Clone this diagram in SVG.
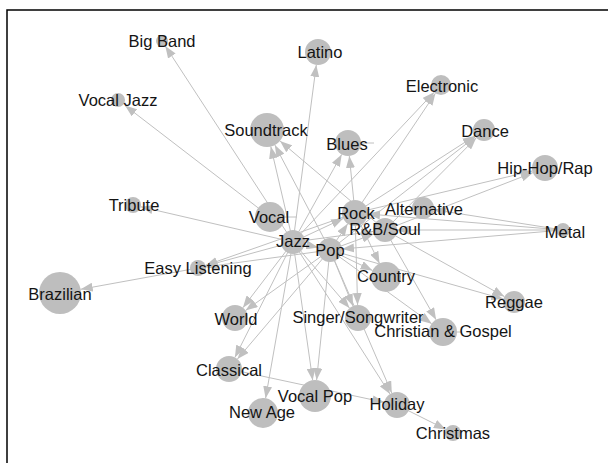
<svg xmlns="http://www.w3.org/2000/svg" width="608" height="463" viewBox="0 0 608 463">
<style>
.e{stroke:#c0c0c0;stroke-width:1;fill:none;marker-end:url(#ah)}
.s{stroke:#c0c0c0;stroke-width:1;fill:none}
.n circle{fill:#bebebe;stroke:none}
.n text{font-family:"Liberation Sans",Arial,sans-serif;font-size:16.5px;fill:#141414;text-anchor:middle}
</style>
<defs>
<marker id="ah" markerUnits="userSpaceOnUse" markerWidth="12" markerHeight="9" refX="12" refY="4.5" orient="auto">
<path d="M0,0 L12,4.5 L0,9 Z" fill="#c0c0c0"/>
</marker>
</defs>
<rect x="0" y="0" width="608" height="463" fill="#ffffff"/>
<path d="M7,463 L7,10 L608,10" stroke="#000" stroke-width="1.5" fill="none"/>
<g id="connectors">
<line class="e" x1="293" y1="242" x2="165.3" y2="46"/>
<line class="e" x1="270" y1="217" x2="125" y2="105.5"/>
<line class="e" x1="293" y1="242" x2="316.3" y2="64.9"/>
<line class="e" x1="293" y1="242" x2="270.8" y2="146.6"/>
<line class="e" x1="330" y1="250" x2="274.9" y2="145.1"/>
<line class="e" x1="385" y1="230" x2="280" y2="141"/>
<line class="e" x1="293" y1="242" x2="341.7" y2="154.4"/>
<line class="e" x1="355" y1="213" x2="349.3" y2="155.9"/>
<line class="e" x1="293" y1="242" x2="434.1" y2="92.3"/>
<line class="e" x1="355" y1="213" x2="435.4" y2="93.3"/>
<line class="e" x1="355" y1="213" x2="474.7" y2="136"/>
<line class="e" x1="385" y1="230" x2="476.3" y2="137.8"/>
<line class="e" x1="330" y1="250" x2="475.3" y2="136.8"/>
<line class="e" x1="355" y1="213" x2="532.4" y2="171"/>
<line class="e" x1="385" y1="230" x2="532.9" y2="172.7"/>
<line class="e" x1="563" y1="230" x2="368" y2="214"/>
<line class="e" x1="563" y1="230" x2="433.9" y2="209.7"/>
<line class="e" x1="563" y1="230" x2="397" y2="230"/>
<line class="e" x1="563" y1="230" x2="342" y2="249"/>
<line class="e" x1="293" y1="242" x2="140.8" y2="206.8"/>
<line class="e" x1="293" y1="242" x2="205.7" y2="265.9"/>
<line class="e" x1="355" y1="213" x2="205.5" y2="265.4"/>
<line class="e" x1="330" y1="250" x2="205.9" y2="266.9"/>
<line class="e" x1="198" y1="268" x2="80.7" y2="289.3"/>
<line class="e" x1="293" y1="242" x2="242.9" y2="307.7"/>
<line class="e" x1="330" y1="250" x2="245.6" y2="310.4"/>
<line class="e" x1="293" y1="242" x2="234.9" y2="357.4"/>
<line class="e" x1="330" y1="250" x2="237.4" y2="359.1"/>
<line class="e" x1="293" y1="242" x2="265.6" y2="398.2"/>
<line class="e" x1="293" y1="242" x2="312.7" y2="380.2"/>
<line class="e" x1="330" y1="250" x2="316.6" y2="380.1"/>
<line class="e" x1="229" y1="369" x2="384.3" y2="402.3"/>
<line class="e" x1="293" y1="242" x2="390" y2="394"/>
<line class="e" x1="330" y1="250" x2="391.8" y2="393.1"/>
<line class="e" x1="397" y1="405" x2="445.8" y2="429.4"/>
<line class="e" x1="293" y1="242" x2="349.5" y2="308.1"/>
<line class="e" x1="330" y1="250" x2="353" y2="306"/>
<line class="e" x1="355" y1="213" x2="357.6" y2="305"/>
<line class="e" x1="355" y1="213" x2="379.5" y2="263.5"/>
<line class="e" x1="330" y1="250" x2="372.5" y2="270.5"/>
<line class="e" x1="385" y1="230" x2="504.4" y2="296.6"/>
<line class="e" x1="330" y1="250" x2="503.4" y2="299"/>
<line class="e" x1="385" y1="230" x2="436.1" y2="319.8"/>
<line class="e" x1="330" y1="250" x2="431.7" y2="323.8"/>
<line class="e" x1="293" y1="242" x2="343.2" y2="218.5"/>
<line class="e" x1="293" y1="242" x2="373.1" y2="231.5"/>
<line class="e" x1="330" y1="250" x2="347.7" y2="223.8"/>
<line class="e" x1="330" y1="250" x2="373.7" y2="234.1"/>
<line class="e" x1="293" y1="242" x2="318.3" y2="247.4"/>
<line class="s" x1="361" y1="143" x2="374" y2="143"/>
<line class="s" x1="280" y1="217" x2="297" y2="217"/>
<line class="s" x1="450" y1="332" x2="462" y2="332"/>
</g>
<g id="n-bigband" class="n"><circle cx="162" cy="41" r="6"/><text x="162" y="47">Big Band</text></g>
<g id="n-latino" class="n"><circle cx="318" cy="52" r="13"/><text x="320" y="58">Latino</text></g>
<g id="n-vocaljazz" class="n"><circle cx="118" cy="100" r="7"/><text x="118" y="106">Vocal Jazz</text></g>
<g id="n-electronic" class="n"><circle cx="441" cy="85" r="10"/><text x="442" y="92">Electronic</text></g>
<g id="n-soundtrack" class="n"><circle cx="267" cy="130" r="17"/><text x="266" y="136">Soundtrack</text></g>
<g id="n-blues" class="n"><circle cx="348" cy="143" r="13"/><text x="347" y="150">Blues</text></g>
<g id="n-dance" class="n"><circle cx="484" cy="130" r="11"/><text x="485" y="137">Dance</text></g>
<g id="n-hiphop" class="n"><circle cx="545" cy="168" r="13"/><text x="545" y="174">Hip-Hop/Rap</text></g>
<g id="n-tribute" class="n"><circle cx="133" cy="205" r="8"/><text x="134" y="211">Tribute</text></g>
<g id="n-vocal" class="n"><circle cx="270" cy="217" r="15"/><text x="269" y="223">Vocal</text></g>
<g id="n-metal" class="n"><circle cx="563" cy="230" r="7"/><text x="565" y="238">Metal</text></g>
<g id="n-alternative" class="n"><circle cx="423" cy="208" r="11"/><text x="424" y="215">Alternative</text></g>
<g id="n-rock" class="n"><circle cx="355" cy="213" r="13"/><text x="356" y="219">Rock</text></g>
<g id="n-rbsoul" class="n"><circle cx="385" cy="230" r="12"/><text x="385" y="235">R&amp;B/Soul</text></g>
<g id="n-jazz" class="n"><circle cx="293" cy="242" r="12"/><text x="293" y="247">Jazz</text></g>
<g id="n-pop" class="n"><circle cx="330" cy="250" r="12"/><text x="330" y="256">Pop</text></g>
<g id="n-easylistening" class="n"><circle cx="198" cy="268" r="8"/><text x="198" y="274">Easy Listening</text></g>
<g id="n-brazilian" class="n"><circle cx="60" cy="293" r="21"/><text x="60" y="300">Brazilian</text></g>
<g id="n-country" class="n"><circle cx="386" cy="277" r="15"/><text x="386" y="282">Country</text></g>
<g id="n-reggae" class="n"><circle cx="514" cy="302" r="11"/><text x="514" y="308">Reggae</text></g>
<g id="n-world" class="n"><circle cx="235" cy="318" r="13"/><text x="236" y="325">World</text></g>
<g id="n-singer" class="n"><circle cx="358" cy="318" r="13"/><text x="358" y="323">Singer/Songwriter</text></g>
<g id="n-christian" class="n"><circle cx="443" cy="332" r="14"/><text x="443" y="337">Christian &amp; Gospel</text></g>
<g id="n-classical" class="n"><circle cx="229" cy="369" r="13"/><text x="229" y="376">Classical</text></g>
<g id="n-newage" class="n"><circle cx="263" cy="413" r="15"/><text x="262" y="418">New Age</text></g>
<g id="n-vocalpop" class="n"><circle cx="315" cy="396" r="16"/><text x="315" y="402">Vocal Pop</text></g>
<g id="n-holiday" class="n"><circle cx="397" cy="405" r="13"/><text x="397" y="410">Holiday</text></g>
<g id="n-christmas" class="n"><circle cx="453" cy="433" r="8"/><text x="453" y="439">Christmas</text></g>
</svg>
